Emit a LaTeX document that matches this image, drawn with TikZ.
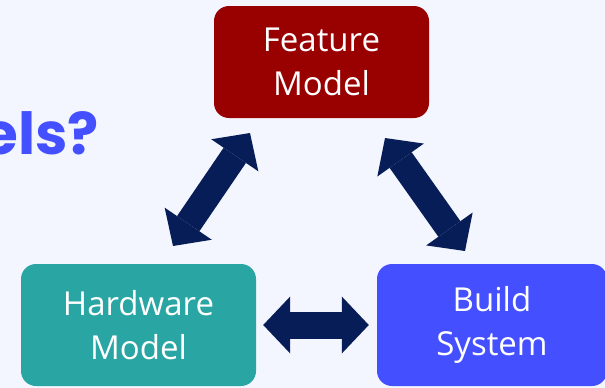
\documentclass[tikz,border=0pt]{standalone}
\usepackage{fontspec}
\setmainfont{Open Sans}
\newfontfamily\popfont{Poppins}
\usetikzlibrary{arrows.meta}
\definecolor{bgcol}{HTML}{F4F6FF}
\definecolor{fmred}{HTML}{990000}
\definecolor{hwteal}{HTML}{29A5A4}
\definecolor{bsblue}{HTML}{4450FF}
\definecolor{navyc}{HTML}{071D57}
\definecolor{qblue}{HTML}{4450FF}
\begin{document}
\begin{tikzpicture}[x=1pt,y=-1pt,
  box/.style={rounded corners=15pt, text=white, align=center,
    font=\fontsize{33}{44}\selectfont, inner sep=0pt},
  dbl/.style={line width=27pt, draw=navyc,
    {Triangle[length=27pt,width=57pt,line width=0pt]}-{Triangle[length=27pt,width=57pt,line width=0pt]}}]
\useasboundingbox (0,0) rectangle (605,388);
\fill[bgcol] (0,0) rectangle (605,388);
\clip (0,0) rectangle (605,388);
\node[box, fill=fmred, minimum width=215pt, minimum height=112pt] (fm) at (321.5,62) {Feature\\Model};
\node[box, fill=hwteal, minimum width=235pt, minimum height=122pt] (hw) at (138.5,325) {Hardware\\Model};
\node[box, fill=bsblue, minimum width=230pt, minimum height=122pt] (bs) at (492,325) {Build\\System};
\node[anchor=base east, text=qblue, inner sep=0pt,
  font=\popfont\bfseries\fontsize{58}{58}\selectfont] (q) at (99,154) {els?};
\coordinate (l1) at (173,246);
\coordinate (l2) at (250,133);
\coordinate (r1) at (385,138);
\coordinate (r2) at (465,251);
\draw[dbl] (l1) -- (l2);
\draw[dbl] (r1) -- (r2);
\draw[dbl] ([xshift=7pt]hw.east) -- ([xshift=-8pt]bs.west);
\end{tikzpicture}
\end{document}
